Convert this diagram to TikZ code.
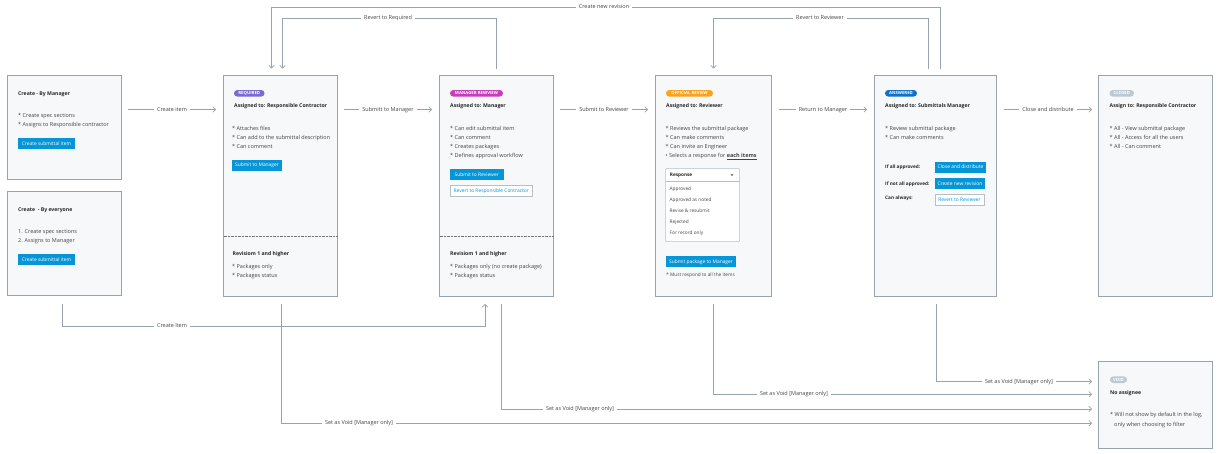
\documentclass[tikz,border=0pt]{standalone}
\usepackage{fontspec}
\setmainfont{Open Sans}
\usetikzlibrary{arrows.meta}
\definecolor{edge}{HTML}{97A4AE}
\definecolor{panel}{HTML}{F6F8FA}
\definecolor{ink}{HTML}{444444}
\definecolor{btnblue}{HTML}{0696D7}
\definecolor{bviolet}{HTML}{7B6AD0}
\definecolor{bmagenta}{HTML}{C83DBE}
\definecolor{borange}{HTML}{FAA21B}
\definecolor{bblue}{HTML}{0F72C8}
\definecolor{bgrey}{HTML}{BCC8D2}
\tikzset{
 box/.style={draw=edge,line width=.9pt,fill=panel,anchor=north west,inner sep=0pt,outer sep=0pt},
 txt/.style={anchor=west,inner sep=0pt,text height=4.2pt,text depth=1.2pt,text=ink,font=\fontsize{5.5}{6}\selectfont},
 head/.style={txt,text=black!85,font=\fontsize{5.15}{6}\selectfont\bfseries},
 small/.style={txt,font=\fontsize{4.75}{5}\selectfont},
 smallb/.style={txt,text=black!85,font=\fontsize{4.7}{5}\selectfont\bfseries},
 btn/.style={anchor=west,fill=btnblue,text=white,inner sep=0pt,outer sep=0pt,minimum height=11,font=\fontsize{4.9}{5}\selectfont},
 obtn/.style={anchor=west,draw=edge!70,line width=.5pt,fill=white,text=btnblue,inner sep=0pt,outer sep=0pt,minimum height=11,font=\fontsize{4.9}{5}\selectfont},
 badge/.style={anchor=west,rounded corners=3.3,inner sep=0pt,outer sep=0pt,minimum height=6.6,text height=3.2pt,text depth=0pt,text=white,font=\fontsize{4.3}{5}\selectfont\bfseries},
 conn/.style={draw=edge,line width=.7pt},
 arr/.style={conn,-{Straight Barb[length=2.6pt,width=5.5pt]}},
 lab/.style={inner sep=0pt,outer sep=3pt,text height=4.2pt,text depth=1.2pt,text=ink,font=\fontsize{5.5}{6}\selectfont},
 divider/.style={draw=ink!75,line width=.4pt,dash pattern=on .7pt off .7pt},
}
\begin{document}
\begin{tikzpicture}[x=1pt,y=-1pt]
\useasboundingbox (0,0) rectangle (1220,453);
% panels
\node[box,minimum width=113.5,minimum height=104] (bm) at (7.5,75.5) {};
\node[box,minimum width=113.5,minimum height=104] (be) at (7.5,191.5) {};
\node[box,minimum width=113.5,minimum height=220.5] (req) at (223.5,75.5) {};
\node[box,minimum width=113.5,minimum height=220.5] (mgr) at (439.5,75.5) {};
\node[box,minimum width=116.5,minimum height=220.5] (off) at (655.2,75.5) {};
\node[box,minimum width=122.5,minimum height=220.5] (ans) at (874.3,75.5) {};
\node[box,minimum width=113.5,minimum height=220.5] (clo) at (1098.8,75.5) {};
\node[box,minimum width=113.5,minimum height=86.5] (voi) at (1098.8,361.8) {};
% create by manager
\node[head] (t1) at (18,93.5) {Create - By Manager};
\node[txt] (t2) at (18,116) {* Create spec sections};
\node[txt] (t3) at (18,125.3) {* Assigns to Responsible contractor};
\node[btn,minimum width=57] (b1) at (18,143.5) {Create submittal item};
% create by everyone
\node[head] (t4) at (18,209.5) {Create\ \ - By everyone};
\node[txt] (t5) at (18,232) {1. Create spec sections};
\node[txt] (t6) at (18,241.3) {2. Assigns to Manager};
\node[btn,minimum width=57] (b2) at (18,259.5) {Create submittal item};
% required
\node[badge,fill=bviolet,minimum width=30.5] (s1) at (234,93.3) {REQUIRED};
\node[head] (r0) at (234,106) {Assigned to: Responsible Contractor};
\node[txt] (r1) at (232,128.5) {* Attaches files};
\node[txt] (r2) at (232,137.7) {* Can add to the submittal description};
\node[txt] (r3) at (232,147) {* Can comment};
\node[btn,minimum width=50] (b3) at (232,165) {Submit to Manager};
\draw[divider] (req.west |- 0,236.5) -- (req.east |- 0,236.5);
\node[head] (r4) at (232.5,253.5) {Revisiom 1 and higher};
\node[txt] (r5) at (232,266.7) {* Packages only};
\node[txt] (r6) at (232,276) {* Packages status};
% manager
\node[badge,fill=bmagenta,minimum width=53] (s2) at (450,93.3) {MANAGER REWVIEW};
\node[head] (m0) at (450,106) {Assigned to: Manager};
\node[txt] (m1) at (450,128.5) {* Can edit submittal item};
\node[txt] (m2) at (450,137.7) {* Can comment};
\node[txt] (m3) at (450,147) {* Creates packages};
\node[txt] (m4) at (450,156) {* Defines approval workflow};
\node[btn,minimum width=53.5] (b4) at (450,174.5) {Submit to Reviewer};
\node[obtn,minimum width=82.5] (b5) at (450,191) {Revert to Responsible Contractor};
\draw[divider] (mgr.west |- 0,236.5) -- (mgr.east |- 0,236.5);
\node[head] (m5) at (450,253.5) {Revisiom 1 and higher};
\node[txt] (m6) at (450,266.7) {* Packages only (no create package)};
\node[txt] (m7) at (450,276) {* Packages status};
% official
\node[badge,fill=borange,minimum width=47] (s3) at (666,93.3) {OFFICIAL REVIEW};
\node[head] (o0) at (666,106) {Assigned to: Reviewer};
\node[txt] (o1) at (665.5,128.5) {* Reviews the submittal package};
\node[txt] (o2) at (665.5,137.7) {* Can make comments};
\node[txt] (o3) at (665.5,147) {* Can invite an Engineer};
\node[txt] (o4) at (665.5,156) {• Selects a response for {\bfseries\underline{each items}}};
\node[draw=edge!70,line width=.5pt,fill=white,rounded corners=.8,anchor=north west,inner sep=0pt,outer sep=0pt,minimum width=74,minimum height=73] (dd) at (665.5,168.5) {};
\coordinate (ddl) at (665.5,181.5);
\coordinate (ddr) at (739.5,181.5);
\draw[draw=edge!70,line width=.5pt] (ddl) -- (ddr);
\node[smallb] (d0) at (669.7,175) {Response};
\fill[ink] (730.6,174.4) -- (733.4,174.4) -- (732,176) -- cycle;
\node[small] (d2) at (669.5,188.5) {Approved};
\node[small] (d3) at (669.5,199.5) {Approved as noted};
\node[small] (d4) at (669.5,210.5) {Revise \& resubmit};
\node[small] (d5) at (669.5,221.5) {Rejected};
\node[small] (d6) at (669.5,232.5) {For record only};
\node[btn,minimum width=70] (b6) at (666,261.8) {Submit package to Manager};
\node[small] (o5) at (666,275) {* Must respond to all the items};
% answered
\node[badge,fill=bblue,minimum width=32] (s4) at (885,93.3) {ANSWERED};
\node[head] (a0) at (885,106) {Assigned to: Submittals Manager};
\node[txt] (a1) at (885,128.5) {* Review submittal package};
\node[txt] (a2) at (885,137.7) {* Can make comments};
\node[smallb] (a3) at (885,167) {If all approved:};
\node[btn,minimum width=51] (b7) at (935,167) {Close and distribute};
\node[smallb] (a4) at (885,183.7) {If not all approved:};
\node[btn,minimum width=50] (b8) at (935,183.7) {Create new revision};
\node[smallb] (a5) at (885,198.3) {Can always:};
\node[obtn,minimum width=49] (b9) at (935,200) {Revert to Reviewer};
% closed
\node[badge,fill=bgrey,minimum width=24.5] (s5) at (1109.5,93.3) {CLOSED};
\node[head] (c0) at (1109.5,106) {Assign to: Responsible Contractor};
\node[txt] (c1) at (1109.5,128.5) {* All - View submittal package};
\node[txt] (c2) at (1109.5,137.7) {* All - Access for all the users};
\node[txt] (c3) at (1109.5,147) {* All - Can comment};
% void
\node[badge,fill=bgrey,minimum width=17] (s6) at (1110,379.7) {VOID};
\node[head] (v0) at (1110,392.7) {No assignee};
\node[txt] (v1) at (1110,415) {* Will not show by default in the log,};
\node[txt] (v2) at (1114,424.5) {only when choosing to filter};
% connector end points
\coordinate (h1s) at (128,109.5); \coordinate (h1e) at (216,109.5);
\coordinate (h2s) at (344,109.5); \coordinate (h2e) at (432,109.5);
\coordinate (h3s) at (560,109.5); \coordinate (h3e) at (648,109.5);
\coordinate (h4s) at (779,109.5); \coordinate (h4e) at (867,109.5);
\coordinate (h5s) at (1003.5,109.5); \coordinate (h5e) at (1092,109.5);
\coordinate (u1s) at (940.5,69); \coordinate (u1e) at (271.5,68.5);
\coordinate (u2s) at (496,69); \coordinate (u2e) at (282.5,68.5);
\coordinate (u3s) at (928.3,69); \coordinate (u3e) at (713.5,68.5);
\coordinate (d1s) at (62.3,304); \coordinate (d1e) at (485,304);
\coordinate (d2s) at (281,304); \coordinate (d2e) at (1092,423.2);
\coordinate (d3s) at (501,304); \coordinate (d3e) at (1092,409);
\coordinate (d4s) at (713.5,304); \coordinate (d4e) at (1092,394.3);
\coordinate (d5s) at (936.5,304); \coordinate (d5e) at (1092,381.5);
% labels
\node[lab] (l1) at (172,109.5) {Create item};
\node[lab] (l2) at (388,109.5) {Submitt to Manager};
\node[lab] (l3) at (604,109.5) {Submit to Reviewer};
\node[lab] (l4) at (823,109.5) {Return to Manager};
\node[lab] (l5) at (1048,109.5) {Close and distribute};
\node[lab] (l6) at (604,7) {Create new revision};
\node[lab] (l7) at (388,18) {Revert to Required};
\node[lab] (l8) at (820,18) {Revert to Reviewer};
\node[lab] (l9) at (172,326.3) {Create Item};
\node[lab] (l10) at (359,423.2) {Set as Void [Manager only]};
\node[lab] (l11) at (580,409) {Set as Void [Manager only]};
\node[lab] (l12) at (794,394.3) {Set as Void [Manager only]};
\node[lab] (l13) at (1019,381.5) {Set as Void [Manager only]};
% connectors
\foreach \i in {1,...,5} {
 \draw[conn] (h\i s) -- (l\i);
 \draw[arr] (l\i) -- (h\i e);
}
\draw[conn] (u1s) |- (l6.east);
\draw[arr] (l6.west) -| (u1e);
\draw[conn] (u2s) |- (l7.east);
\draw[arr] (l7.west) -| (u2e);
\draw[conn] (u3s) |- (l8.east);
\draw[arr] (l8.west) -| (u3e);
\draw[conn] (d1s) |- (l9.west);
\draw[arr] (l9.east) -| (d1e);
\draw[conn] (d2s) |- (l10.west);
\draw[arr] (l10.east) -- (d2e);
\draw[conn] (d3s) |- (l11.west);
\draw[arr] (l11.east) -- (d3e);
\draw[conn] (d4s) |- (l12.west);
\draw[arr] (l12.east) -- (d4e);
\draw[conn] (d5s) |- (l13.west);
\draw[arr] (l13.east) -- (d5e);
\end{tikzpicture}
\end{document}
